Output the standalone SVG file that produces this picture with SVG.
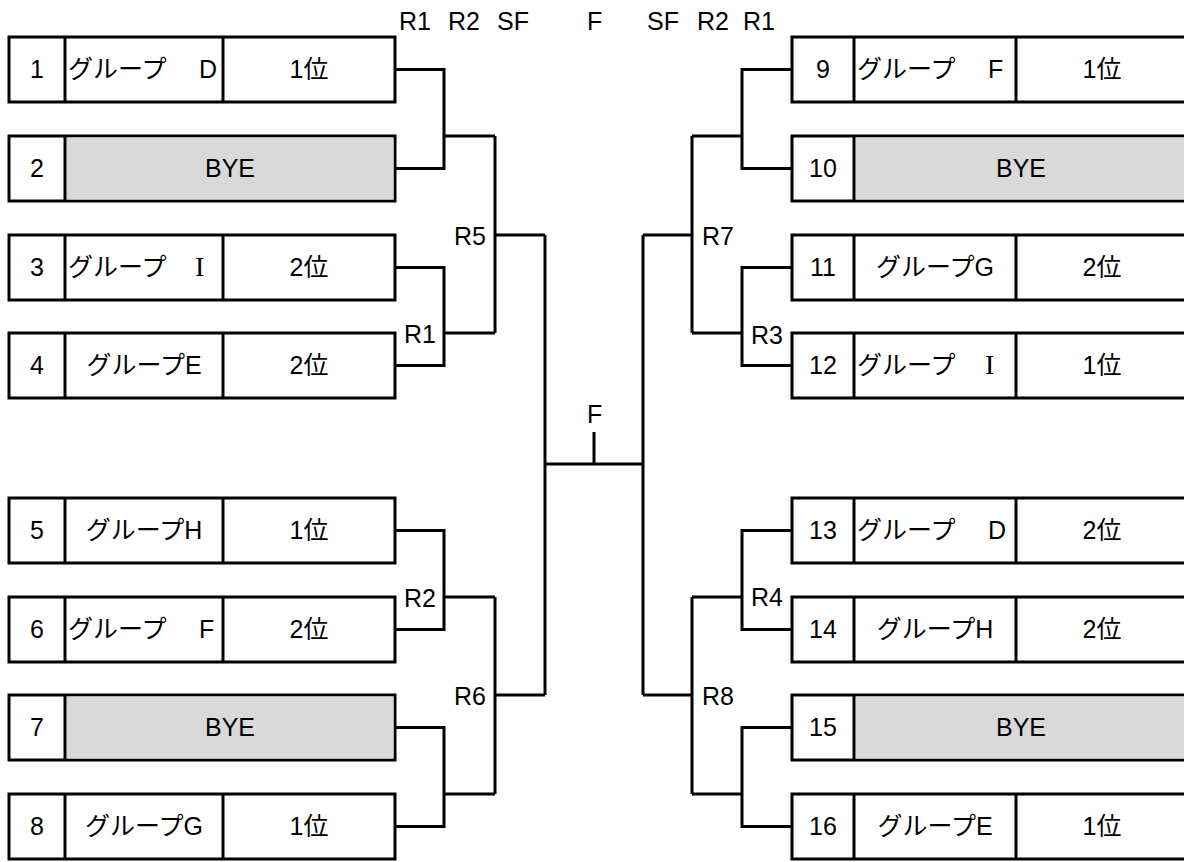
<svg xmlns="http://www.w3.org/2000/svg" width="1184" height="862" viewBox="0 0 1184 862">
<style>
text{font-family:"Liberation Sans","Noto Sans CJK JP",sans-serif;font-size:25px;fill:#000}
.c{text-anchor:middle}
.e{text-anchor:end}
.box{fill:#fff;stroke:#000;stroke-width:3}
.bye{fill:#d9d9d9;stroke:none}
.div{stroke:#000;stroke-width:3}
.con{fill:none;stroke:#000;stroke-width:3;stroke-linejoin:miter}
.serif{font-family:"Liberation Serif","Noto Serif CJK JP",serif;font-size:28px}
</style>
<rect width="1184" height="862" fill="#fff"/>
<g id="headers">
<text x="399" y="30">R1</text>
<text x="448" y="30">R2</text>
<text x="497" y="30">SF</text>
<text x="587" y="30">F</text>
<text x="647" y="30">SF</text>
<text x="697" y="30">R2</text>
<text x="743" y="30">R1</text>
</g>
<g id="connectors">
<path class="con" d="M395 69.5H444V168.5H395M444 136H495M395 267.5H444V365.5H395M444 333H495M495 136V333M495 235H545"/>
<path class="con" d="M395 530.5H444V629.5H395M444 597H495M395 727.5H444V826.5H395M444 794H495M495 597V794M495 695H545M545 235V695"/>
<path class="con" d="M545 464H643M594 432V464"/>
<path class="con" d="M792 69.5H742V168.5H792M742 136H692M792 267.5H742V365.5H792M742 333H692M692 136V333M692 235H643"/>
<path class="con" d="M792 530.5H742V629.5H792M742 597H692M792 727.5H742V826.5H792M742 794H692M692 597V794M692 695H643M643 235V695"/>
<text x="486" y="245" class="e">R5</text>
<text x="404" y="343">R1</text>
<text x="404" y="607">R2</text>
<text x="486" y="705" class="e">R6</text>
<text x="587" y="423">F</text>
<text x="702" y="245">R7</text>
<text x="751" y="344">R3</text>
<text x="751" y="606">R4</text>
<text x="702" y="705">R8</text>
</g>
<g id="n1"><rect class="box" x="9" y="37" width="386" height="65"/><line class="div" x1="65" y1="37" x2="65" y2="102"/><line class="div" x1="223" y1="37" x2="223" y2="102"/><text x="37" y="78" class="c">1</text><text x="68" y="78" xml:space="preserve">グループ <tspan x="199">D</tspan></text><text x="309" y="78" class="c">1位</text></g>
<g id="n2"><rect class="box" x="9" y="136" width="386" height="65"/><rect class="bye" x="66.5" y="137.5" width="327" height="62"/><line class="div" x1="65" y1="136" x2="65" y2="201"/><text x="37" y="177" class="c">2</text><text x="230" y="177" class="c">BYE</text></g>
<g id="n3"><rect class="box" x="9" y="235" width="386" height="65"/><line class="div" x1="65" y1="235" x2="65" y2="300"/><line class="div" x1="223" y1="235" x2="223" y2="300"/><text x="37" y="276" class="c">3</text><text x="68" y="276" xml:space="preserve">グループ <tspan x="195" class="serif">I</tspan></text><text x="309" y="276" class="c">2位</text></g>
<g id="n4"><rect class="box" x="9" y="333" width="386" height="65"/><line class="div" x1="65" y1="333" x2="65" y2="398"/><line class="div" x1="223" y1="333" x2="223" y2="398"/><text x="37" y="374" class="c">4</text><text x="144" y="374" class="c">グループE</text><text x="309" y="374" class="c">2位</text></g>
<g id="n5"><rect class="box" x="9" y="498" width="386" height="65"/><line class="div" x1="65" y1="498" x2="65" y2="563"/><line class="div" x1="223" y1="498" x2="223" y2="563"/><text x="37" y="539" class="c">5</text><text x="144" y="539" class="c">グループH</text><text x="309" y="539" class="c">1位</text></g>
<g id="n6"><rect class="box" x="9" y="597" width="386" height="65"/><line class="div" x1="65" y1="597" x2="65" y2="662"/><line class="div" x1="223" y1="597" x2="223" y2="662"/><text x="37" y="638" class="c">6</text><text x="68" y="638" xml:space="preserve">グループ <tspan x="199">F</tspan></text><text x="309" y="638" class="c">2位</text></g>
<g id="n7"><rect class="box" x="9" y="695" width="386" height="65"/><rect class="bye" x="66.5" y="696.5" width="327" height="62"/><line class="div" x1="65" y1="695" x2="65" y2="760"/><text x="37" y="736" class="c">7</text><text x="230" y="736" class="c">BYE</text></g>
<g id="n8"><rect class="box" x="9" y="794" width="386" height="65"/><line class="div" x1="65" y1="794" x2="65" y2="859"/><line class="div" x1="223" y1="794" x2="223" y2="859"/><text x="37" y="835" class="c">8</text><text x="144" y="835" class="c">グループG</text><text x="309" y="835" class="c">1位</text></g>
<g id="n9"><rect class="box" x="792" y="37" width="398" height="65"/><line class="div" x1="854" y1="37" x2="854" y2="102"/><line class="div" x1="1016" y1="37" x2="1016" y2="102"/><text x="823" y="78" class="c">9</text><text x="857" y="78" xml:space="preserve">グループ <tspan x="988">F</tspan></text><text x="1102" y="78" class="c">1位</text></g>
<g id="n10"><rect class="box" x="792" y="136" width="398" height="65"/><rect class="bye" x="855.5" y="137.5" width="340" height="62"/><line class="div" x1="854" y1="136" x2="854" y2="201"/><text x="823" y="177" class="c">10</text><text x="1021" y="177" class="c">BYE</text></g>
<g id="n11"><rect class="box" x="792" y="235" width="398" height="65"/><line class="div" x1="854" y1="235" x2="854" y2="300"/><line class="div" x1="1016" y1="235" x2="1016" y2="300"/><text x="823" y="276" class="c">11</text><text x="935" y="276" class="c">グループG</text><text x="1102" y="276" class="c">2位</text></g>
<g id="n12"><rect class="box" x="792" y="333" width="398" height="65"/><line class="div" x1="854" y1="333" x2="854" y2="398"/><line class="div" x1="1016" y1="333" x2="1016" y2="398"/><text x="823" y="374" class="c">12</text><text x="857" y="374" xml:space="preserve">グループ <tspan x="985" class="serif">I</tspan></text><text x="1102" y="374" class="c">1位</text></g>
<g id="n13"><rect class="box" x="792" y="498" width="398" height="65"/><line class="div" x1="854" y1="498" x2="854" y2="563"/><line class="div" x1="1016" y1="498" x2="1016" y2="563"/><text x="823" y="539" class="c">13</text><text x="857" y="539" xml:space="preserve">グループ <tspan x="988">D</tspan></text><text x="1102" y="539" class="c">2位</text></g>
<g id="n14"><rect class="box" x="792" y="597" width="398" height="65"/><line class="div" x1="854" y1="597" x2="854" y2="662"/><line class="div" x1="1016" y1="597" x2="1016" y2="662"/><text x="823" y="638" class="c">14</text><text x="935" y="638" class="c">グループH</text><text x="1102" y="638" class="c">2位</text></g>
<g id="n15"><rect class="box" x="792" y="695" width="398" height="65"/><rect class="bye" x="855.5" y="696.5" width="340" height="62"/><line class="div" x1="854" y1="695" x2="854" y2="760"/><text x="823" y="736" class="c">15</text><text x="1021" y="736" class="c">BYE</text></g>
<g id="n16"><rect class="box" x="792" y="794" width="398" height="65"/><line class="div" x1="854" y1="794" x2="854" y2="859"/><line class="div" x1="1016" y1="794" x2="1016" y2="859"/><text x="823" y="835" class="c">16</text><text x="935" y="835" class="c">グループE</text><text x="1102" y="835" class="c">1位</text></g>
</svg>
